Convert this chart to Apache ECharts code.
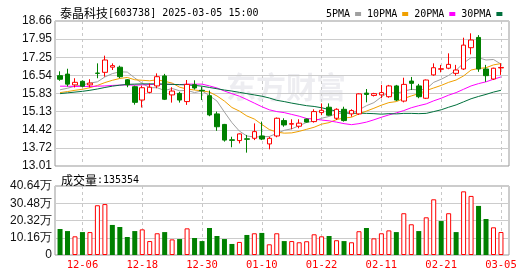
<!DOCTYPE html>
<html><head><meta charset="utf-8">
<script src="https://cdn.jsdelivr.net/npm/echarts@6/dist/echarts.min.js"></script>
<style>html,body{margin:0;padding:0;background:#fff}#c{width:530px;height:276px}</style>
</head><body><div id="c"></div>
<script>
// ---------- data ----------
const stockName = '泰晶科技';
const stockInfo = '[603738] 2025-03-05 15:00';
const volName = '成交量';
const lastVolume = 135354;
const maNames = ['5PMA', '10PMA', '20PMA', '30PMA'];

const dates = ['12-03','12-04','12-05','12-06','12-09','12-10','12-11','12-12','12-13','12-16',
  '12-17','12-18','12-19','12-20','12-23','12-24','12-25','12-26','12-27','12-30',
  '12-31','01-02','01-03','01-06','01-07','01-08','01-09','01-10','01-13','01-14',
  '01-15','01-16','01-17','01-20','01-21','01-22','01-23','01-24','01-27','02-05',
  '02-06','02-07','02-10','02-11','02-12','02-13','02-14','02-17','02-18','02-19',
  '02-20','02-21','02-24','02-25','02-26','02-27','02-28','03-03','03-04','03-05'];

const opens = [16.53,16.59,16.17,16.31,16.17,16.63,16.66,16.86,16.86,16.37,
  16.10,15.58,15.88,16.13,16.52,15.78,15.84,15.52,16.18,15.96,
  15.75,15.04,14.63,14.03,14.00,14.07,14.09,14.18,13.87,14.18,
  14.78,14.64,14.56,14.84,14.74,15.09,15.30,14.87,15.22,15.04,
  15.04,15.85,15.76,15.78,15.71,16.13,15.54,16.32,16.13,15.65,
  16.56,16.78,16.82,16.62,16.79,17.62,18.02,16.79,16.40,16.83];
const closes = [16.39,16.20,16.27,16.12,16.24,16.62,17.14,16.92,16.49,16.17,
  15.49,16.06,16.08,16.49,15.61,15.93,15.58,16.19,16.05,15.94,
  15.00,14.54,14.02,14.01,14.26,14.05,14.35,14.06,14.09,14.87,
  14.61,14.66,14.68,14.72,15.13,15.18,14.99,15.22,14.78,15.17,
  15.82,15.80,15.83,15.87,16.13,15.58,16.19,16.23,15.71,16.36,
  16.84,16.80,16.97,16.75,17.72,17.92,16.79,16.53,16.82,16.85];
const lows = [16.33,16.11,16.07,16.08,16.07,16.43,16.49,16.75,16.43,16.08,
  15.40,15.29,15.84,16.04,15.58,15.48,15.48,15.39,15.99,15.58,
  14.95,14.38,13.96,13.74,13.89,13.53,14.02,14.02,13.66,14.13,
  14.54,14.44,14.48,14.70,14.70,14.99,14.97,14.80,14.74,14.93,
  15.00,15.49,15.72,15.65,15.67,15.54,15.49,15.97,15.65,15.62,
  16.53,16.66,16.78,16.53,16.75,17.36,16.68,16.29,16.36,16.56];
const highs = [16.70,16.80,16.43,16.35,16.39,17.01,17.31,17.01,16.92,16.40,
  16.14,16.14,16.23,16.62,16.60,16.08,15.90,16.36,16.35,16.10,
  15.95,15.13,14.65,14.15,14.28,14.22,14.67,14.74,14.15,14.90,
  14.87,14.83,14.83,14.86,15.22,15.45,15.45,15.26,15.32,15.22,
  15.84,16.01,15.86,16.17,16.17,16.17,16.45,16.48,16.21,16.38,
  17.01,16.95,17.40,16.95,18.01,18.18,18.11,16.95,16.84,17.01];
const prevClose = 16.55;

const volumes = [153000,141000,110000,135000,135000,293000,300000,177000,165000,106000,
  141000,151000,82000,128000,135000,92000,94000,157000,100000,82000,
  159000,112000,94000,65000,77000,118000,128000,130000,63000,128000,
  82000,82000,75000,81000,122000,110000,112000,87000,82000,75000,
  140000,159000,98000,128000,145000,135000,246000,181000,141000,222000,
  328000,200000,246000,135000,375000,348000,289000,212000,163000,135354];

const ma5 = [15.98,16.04,16.12,16.17,16.24,16.29,16.48,16.61,16.68,16.67,
  16.44,16.23,16.06,16.06,15.95,16.03,15.94,15.96,15.87,15.94,
  15.75,15.54,15.11,14.70,14.37,14.18,14.14,14.15,14.16,14.28,
  14.40,14.46,14.58,14.71,14.76,14.87,14.94,15.05,15.06,15.07,
  15.20,15.36,15.48,15.70,15.89,15.84,15.92,16.00,15.97,16.01,
  16.27,16.39,16.54,16.74,17.02,17.23,17.23,17.14,17.16,16.98];
const ma10 = [15.87,15.91,15.96,16.00,16.06,16.15,16.26,16.35,16.42,16.46,
  16.37,16.35,16.33,16.37,16.31,16.24,16.08,16.01,15.97,15.94,
  15.89,15.74,15.54,15.29,15.15,14.96,14.84,14.63,14.43,14.33,
  14.29,14.30,14.36,14.44,14.52,14.64,14.70,14.82,14.88,14.91,
  15.04,15.15,15.26,15.38,15.48,15.52,15.64,15.74,15.83,15.95,
  16.05,16.15,16.27,16.36,16.52,16.75,16.81,16.84,16.95,17.00];
const ma20 = [16.12,16.12,16.11,16.11,16.11,16.12,16.13,16.15,16.16,16.17,
  16.16,16.17,16.18,16.20,16.19,16.19,16.18,16.20,16.20,16.20,
  16.13,16.05,15.93,15.83,15.73,15.60,15.46,15.32,15.20,15.13,
  15.09,15.02,14.95,14.86,14.84,14.80,14.77,14.72,14.66,14.62,
  14.66,14.72,14.81,14.91,15.00,15.08,15.17,15.28,15.36,15.43,
  15.55,15.65,15.77,15.87,16.00,16.13,16.22,16.29,16.39,16.48];
const ma30 = [15.83,15.86,15.89,15.92,15.96,16.01,16.07,16.12,16.16,16.19,
  16.20,16.21,16.21,16.21,16.20,16.19,16.18,16.17,16.15,16.12,
  16.07,16.02,15.97,15.93,15.88,15.83,15.78,15.73,15.66,15.57,
  15.52,15.46,15.41,15.36,15.33,15.28,15.21,15.15,15.09,15.06,
  15.07,15.06,15.05,15.03,15.05,15.04,15.06,15.06,15.05,15.06,
  15.13,15.20,15.30,15.39,15.51,15.63,15.72,15.80,15.89,15.96];

const priceTicks = ['13.01','13.72','14.42','15.13','15.83','16.54','17.25','17.95','18.66'];
const volTicks = ['0','10.16万','20.32万','30.48万','40.64万'];
const volMax = 406400;

// ---------- chart ----------
const RED = '#ff0000', GREEN = '#008000';
const MA_COLORS = ['#a0a0a0', '#f0a000', '#ff00ff', '#00703c'];
const MONO = '"DejaVu Sans Mono", monospace';
const CJK = '"Noto Sans CJK SC", sans-serif';
const SANS = '"Liberation Sans", Arial, sans-serif';
const labelEvery = (i) => i % 8 === 3;
const dashed = { show: true, interval: labelEvery, alignWithLabel: true,
  lineStyle: { type: [3, 3], color: '#c8c8c8', width: 1 } };

const chart = echarts.init(document.getElementById('c'), null, { renderer: 'canvas' });

const candleData = dates.map((d, i) => [opens[i], closes[i], lows[i], highs[i]]);
const volData = volumes.map((v, i) => {
  const pc = i === 0 ? prevClose : closes[i - 1];
  const up = closes[i] >= pc;
  return { value: v, itemStyle: up
    ? { color: '#ffffff', borderColor: RED, borderWidth: 1 }
    : { color: GREEN, borderColor: GREEN, borderWidth: 0 } };
});

const maSeries = [ma5, ma10, ma20, ma30].map((arr, k) => ({
  name: maNames[k], type: 'line', xAxisIndex: 0, yAxisIndex: 0, data: arr,
  showSymbol: false, symbol: 'none', smooth: false, color: MA_COLORS[k],
  lineStyle: { width: 1, color: MA_COLORS[k] }, itemStyle: { color: MA_COLORS[k] },
  z: 3, silent: true
}));

const richText = {
  a: { fontFamily: CJK, fontSize: 12, fontWeight: 'normal', color: '#000' },
  b: { fontFamily: MONO, fontSize: 10, fontWeight: 'normal', color: '#000' }
};

chart.setOption({
  animation: false,
  backgroundColor: '#ffffff',
  title: [
    { left: 55, top: 2, text: '{a|' + stockName + '}{b|' + stockInfo + '}',
      textStyle: { fontWeight: 'normal', rich: richText } },
    { left: 56, top: 169, text: '{a|' + volName + '}{b|:' + lastVolume + '}',
      textStyle: { fontWeight: 'normal', rich: richText } }
  ],
  legend: {
    left: 321, top: 4, align: 'right', icon: 'rect', itemWidth: 6, itemHeight: 4,
    itemGap: 6, selectedMode: false, data: maNames,
    textStyle: { fontFamily: MONO, fontSize: 10, color: '#000', padding: 0 }
  },
  graphic: [{
    type: 'text', left: 226, top: 72, z: 0, silent: true,
    style: { text: '东方财富', fontFamily: CJK, fontSize: 30, fontWeight: 'bold',
      fill: 'rgba(190,190,205,0.28)' }
  }],
  grid: [
    { left: 56.3, right: 25.3, top: 21, height: 145 },
    { left: 55, right: 21, top: 21, height: 145, show: true, borderColor: '#999', borderWidth: 1, backgroundColor: 'transparent' },
    { left: 56.3, right: 25.3, top: 186, height: 69 },
    { left: 55, right: 21, top: 186, height: 69, show: true, borderColor: '#999', borderWidth: 1, backgroundColor: 'transparent' }
  ],
  xAxis: [
    { type: 'category', gridIndex: 0, data: dates, boundaryGap: true,
      axisLine: { show: false }, axisTick: { show: false }, axisLabel: { show: false },
      splitLine: dashed },
    { type: 'value', gridIndex: 1, min: 0, max: 1, show: false },
    { type: 'category', gridIndex: 2, data: dates, boundaryGap: true,
      axisLine: { show: false }, axisTick: { show: false },
      axisLabel: { interval: labelEvery, color: RED, fontFamily: MONO, fontSize: 10.5, margin: 5 },
      splitLine: dashed },
    { type: 'value', gridIndex: 3, min: 0, max: 1, show: false }
  ],
  yAxis: [
    { type: 'value', gridIndex: 0, min: Number(priceTicks[0]), max: Number(priceTicks[priceTicks.length - 1]), show: false },
    { type: 'value', gridIndex: 1, min: 0, max: priceTicks.length - 1, interval: 1,
      axisLine: { show: false }, axisTick: { show: false },
      axisLabel: { formatter: (v) => priceTicks[v], fontFamily: SANS, fontSize: 12, color: '#111', margin: 3 },
      splitLine: { show: true, lineStyle: { color: '#cccccc', width: 1 } } },
    { type: 'value', gridIndex: 2, min: 0, max: volMax, show: false },
    { type: 'value', gridIndex: 3, min: 0, max: volTicks.length - 1, interval: 1,
      axisLine: { show: false }, axisTick: { show: false },
      axisLabel: { formatter: (v) => volTicks[v], fontFamily: SANS, fontSize: 12, color: '#111', margin: 3 },
      splitLine: { show: true, lineStyle: { color: '#cccccc', width: 1 } } }
  ],
  series: [
    { type: 'candlestick', name: 'K', xAxisIndex: 0, yAxisIndex: 0, data: candleData,
      barWidth: 5, z: 4, silent: true,
      itemStyle: { color: '#ffffff', color0: GREEN, borderColor: RED, borderColor0: GREEN, borderWidth: 1 } },
    ...maSeries,
    { type: 'bar', name: 'VOL', xAxisIndex: 2, yAxisIndex: 2, data: volData, barWidth: 5, silent: true }
  ]
});
</script></body></html>
